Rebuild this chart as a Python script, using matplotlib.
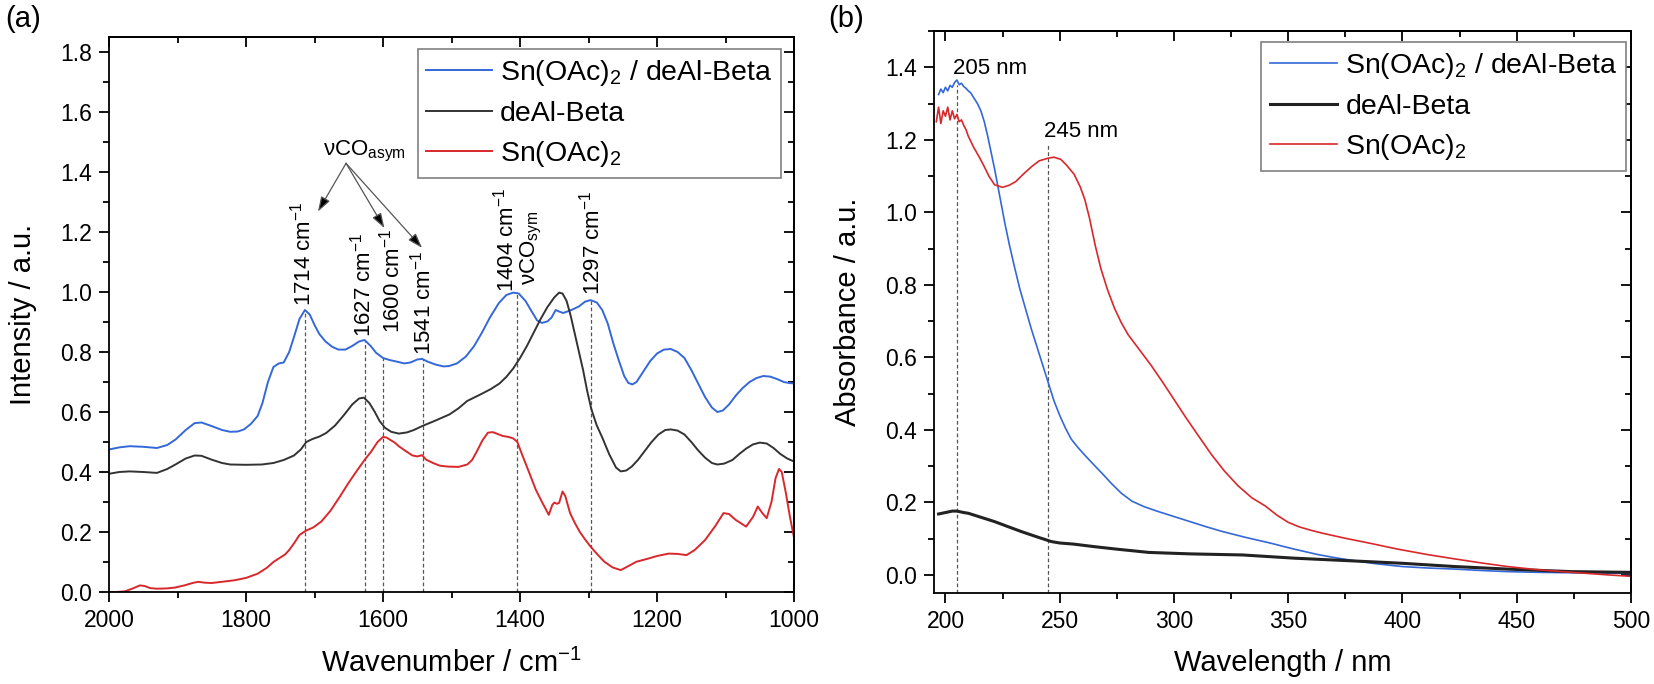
import matplotlib
matplotlib.use("Agg")
import matplotlib.pyplot as plt
from matplotlib.ticker import MultipleLocator, FormatStrFormatter

plt.rcParams['font.family'] = ['Liberation Sans', 'DejaVu Sans']
plt.rcParams['mathtext.fontset'] = 'custom'
plt.rcParams['mathtext.rm'] = 'Liberation Sans'
plt.rcParams['mathtext.it'] = 'Liberation Sans:italic'
plt.rcParams['mathtext.bf'] = 'Liberation Sans:bold'

# ---------------- Panel (a): FTIR ----------------
blue_a_x = [2000, 1985, 1970, 1950, 1930, 1915, 1903, 1888, 1875, 1865, 1850, 1835, 1823, 1812,
            1803, 1793, 1783, 1776, 1768, 1760, 1752, 1745, 1737, 1730, 1722, 1714, 1707, 1700,
            1693, 1684, 1674, 1665, 1655, 1645, 1635, 1627, 1618, 1610, 1600, 1590, 1580, 1569,
            1560, 1550, 1543, 1535, 1523, 1512, 1504, 1492, 1479, 1467, 1456, 1444, 1431, 1420,
            1410, 1402, 1392, 1383, 1375, 1368, 1360, 1354, 1348, 1343, 1337, 1325, 1314, 1305,
            1297, 1288, 1280, 1272, 1264, 1256, 1248, 1242, 1236, 1230, 1220, 1210, 1200, 1190,
            1180, 1170, 1160, 1150, 1140, 1130, 1120, 1112, 1104, 1095, 1085, 1075, 1065, 1055,
            1045, 1035, 1025, 1015, 1008, 1000]
blue_a_y = [0.475, 0.482, 0.486, 0.484, 0.480, 0.490, 0.508, 0.540, 0.563, 0.565, 0.553, 0.540,
            0.534, 0.535, 0.542, 0.560, 0.587, 0.630, 0.700, 0.750, 0.762, 0.765, 0.800, 0.850,
            0.910, 0.940, 0.925, 0.890, 0.860, 0.835, 0.817, 0.808, 0.808, 0.820, 0.835, 0.840,
            0.820, 0.797, 0.780, 0.773, 0.768, 0.762, 0.765, 0.775, 0.777, 0.768, 0.758, 0.752,
            0.753, 0.762, 0.785, 0.820, 0.863, 0.915, 0.963, 0.990, 0.998, 0.995, 0.970, 0.935,
            0.905, 0.897, 0.902, 0.915, 0.940, 0.935, 0.930, 0.940, 0.952, 0.968, 0.973, 0.965,
            0.940, 0.895, 0.830, 0.773, 0.720, 0.697, 0.692, 0.700, 0.735, 0.770, 0.795, 0.808,
            0.810, 0.800, 0.780, 0.740, 0.695, 0.650, 0.615, 0.600, 0.605, 0.625, 0.655, 0.680,
            0.700, 0.713, 0.720, 0.718, 0.710, 0.700, 0.697, 0.695]

black_a_x = [2000, 1985, 1970, 1950, 1930, 1915, 1903, 1888, 1875, 1865, 1850, 1835, 1823, 1800,
             1777, 1760, 1745, 1730, 1720, 1712, 1703, 1693, 1683, 1670, 1657, 1645, 1635, 1628,
             1620, 1612, 1605, 1597, 1588, 1577, 1565, 1555, 1543, 1525, 1503, 1490, 1477, 1460,
             1443, 1430, 1420, 1410, 1400, 1390, 1380, 1370, 1360, 1350, 1343, 1338, 1332, 1326,
             1320, 1314, 1308, 1302, 1296, 1288, 1280, 1270, 1260, 1253, 1245, 1237, 1228, 1218,
             1208, 1198, 1188, 1180, 1170, 1160, 1150, 1140, 1130, 1120, 1112, 1102, 1090, 1080,
             1070, 1060, 1050, 1040, 1030, 1020, 1010, 1000]
black_a_y = [0.394, 0.400, 0.402, 0.400, 0.397, 0.410, 0.425, 0.445, 0.455, 0.454, 0.441, 0.430,
             0.425, 0.424, 0.425, 0.430, 0.440, 0.455, 0.475, 0.500, 0.510, 0.518, 0.530, 0.555,
             0.590, 0.625, 0.645, 0.648, 0.630, 0.600, 0.570, 0.547, 0.534, 0.528, 0.532, 0.540,
             0.553, 0.570, 0.592, 0.612, 0.637, 0.656, 0.676, 0.695, 0.717, 0.745, 0.780, 0.820,
             0.865, 0.910, 0.950, 0.982, 0.998, 0.995, 0.970, 0.920, 0.860, 0.800, 0.740, 0.670,
             0.610, 0.555, 0.515, 0.460, 0.415, 0.402, 0.405, 0.418, 0.440, 0.470, 0.500, 0.525,
             0.540, 0.542, 0.538, 0.525, 0.500, 0.472, 0.448, 0.430, 0.425, 0.428, 0.440, 0.460,
             0.478, 0.492, 0.498, 0.495, 0.480, 0.460, 0.445, 0.435]

red_a_x = [2000, 1990, 1977, 1965, 1955, 1948, 1940, 1930, 1915, 1903, 1890, 1878, 1870, 1860,
           1850, 1835, 1817, 1800, 1783, 1770, 1760, 1752, 1743, 1737, 1730, 1722, 1713, 1702,
           1690, 1677, 1663, 1650, 1637, 1627, 1617, 1608, 1600, 1595, 1590, 1583, 1577, 1567,
           1557, 1550, 1543, 1537, 1527, 1517, 1505, 1490, 1477, 1470, 1463, 1455, 1447, 1440,
           1433, 1425, 1417, 1410, 1404, 1397, 1387, 1377, 1368, 1358, 1353, 1350, 1346, 1343,
           1338, 1334, 1327, 1320, 1313, 1305, 1297, 1287, 1277, 1265, 1253, 1243, 1230, 1215,
           1200, 1183, 1170, 1157, 1145, 1130, 1115, 1103, 1095, 1085, 1070, 1060, 1053, 1047,
           1040, 1033, 1027, 1022, 1018, 1012, 1006, 1000]
red_a_y = [0.000, 0.000, 0.002, 0.012, 0.022, 0.020, 0.013, 0.011, 0.012, 0.015, 0.022, 0.030,
           0.034, 0.031, 0.030, 0.034, 0.039, 0.047, 0.061, 0.080, 0.100, 0.112, 0.125, 0.140,
           0.162, 0.190, 0.204, 0.215, 0.235, 0.270, 0.318, 0.365, 0.408, 0.440, 0.469, 0.500,
           0.517, 0.515, 0.508, 0.498, 0.486, 0.470, 0.455, 0.452, 0.456, 0.441, 0.430, 0.421,
           0.418, 0.417, 0.425, 0.440, 0.469, 0.505, 0.531, 0.533, 0.527, 0.520, 0.517, 0.512,
           0.500, 0.458, 0.400, 0.341, 0.300, 0.257, 0.290, 0.298, 0.294, 0.297, 0.335, 0.320,
           0.263, 0.230, 0.201, 0.175, 0.151, 0.125, 0.101, 0.082, 0.073, 0.085, 0.101, 0.110,
           0.120, 0.128, 0.127, 0.123, 0.140, 0.173, 0.220, 0.263, 0.260, 0.240, 0.218, 0.250,
           0.285, 0.265, 0.246, 0.300, 0.380, 0.410, 0.400, 0.330, 0.250, 0.180]

peak_a_x = [1714, 1627, 1600, 1541, 1404, 1297]
peak_a_top = [0.94, 0.84, 0.78, 0.777, 0.997, 0.973]
peak_a_labels = ['1714 cm$^{\\mathregular{-1}}$', '1627 cm$^{\\mathregular{-1}}$',
                 '1600 cm$^{\\mathregular{-1}}$', '1541 cm$^{\\mathregular{-1}}$',
                 '1404 cm$^{\\mathregular{-1}}$', '1297 cm$^{\\mathregular{-1}}$']
peak_a_text_x = [1717, 1630, 1588, 1543, 1421, 1295]
peak_a_text_y = [0.955, 0.85, 0.862, 0.79, 1.0, 0.99]

asym_apex = (1654, 1.429)
asym_tips = [(1695, 1.268), (1598, 1.213), (1543, 1.147)]

# ---------------- Panel (b): UV-Vis ----------------
blue_b_x = [197, 198, 199, 200, 201, 202, 203, 204, 205, 206, 207, 208, 209, 210, 211, 212, 213,
            214, 215.5, 217, 218.5, 220, 221.5, 223, 224.5, 226, 228, 230, 232.5, 235, 237.5, 240,
            242.5, 245, 247.5, 250, 252.5, 255, 257.5, 260, 262.5, 265.5, 269, 272.5, 277, 281.7,
            287, 293, 300, 307, 314, 321, 331, 342, 352, 363, 370, 377, 388, 400, 411, 423, 435,
            446, 460, 474, 487, 500]
blue_b_y = [1.325, 1.340, 1.330, 1.345, 1.335, 1.350, 1.345, 1.358, 1.365, 1.352, 1.356, 1.347,
            1.342, 1.335, 1.330, 1.320, 1.310, 1.300, 1.280, 1.250, 1.210, 1.165, 1.120, 1.070,
            1.020, 0.970, 0.910, 0.855, 0.790, 0.735, 0.680, 0.630, 0.580, 0.530, 0.480, 0.440,
            0.405, 0.375, 0.355, 0.337, 0.320, 0.300, 0.277, 0.253, 0.225, 0.203, 0.188, 0.175,
            0.161, 0.147, 0.133, 0.120, 0.104, 0.088, 0.072, 0.056, 0.048, 0.041, 0.031, 0.023,
            0.019, 0.016, 0.012, 0.009, 0.007, 0.006, 0.005, 0.004]

red_b_x = [196, 197, 198, 199, 200, 201, 202, 203, 204, 205, 206, 207, 208, 209, 210, 212.3, 215,
           217, 219, 221.5, 225, 228, 230.8, 234, 237.7, 241, 244.7, 247.5, 250.5, 253, 256.3,
           259, 261, 263, 265.5, 268, 271, 274, 277, 280, 285, 290, 295, 300, 305, 310, 316.4,
           322, 328, 334, 340, 345, 350, 355, 360, 365, 375, 386, 398, 411, 423, 434.5, 446, 458,
           470, 481, 490, 500]
red_b_y = [1.250, 1.290, 1.245, 1.280, 1.265, 1.290, 1.255, 1.280, 1.258, 1.270, 1.250, 1.255,
           1.240, 1.228, 1.210, 1.180, 1.150, 1.126, 1.100, 1.076, 1.069, 1.075, 1.085, 1.105,
           1.126, 1.142, 1.149, 1.152, 1.146, 1.130, 1.105, 1.070, 1.035, 0.985, 0.910, 0.845,
           0.785, 0.735, 0.695, 0.662, 0.620, 0.578, 0.532, 0.484, 0.436, 0.390, 0.332, 0.287,
           0.246, 0.213, 0.190, 0.165, 0.145, 0.132, 0.123, 0.115, 0.101, 0.087, 0.071, 0.056,
           0.044, 0.033, 0.023, 0.015, 0.009, 0.004, 0.000, -0.004]

black_b_x = [197, 200, 203, 205, 208, 210, 215, 221.5, 227, 233, 240, 246.3, 250, 256, 265,
             275, 289, 307, 330, 353, 377, 400, 423, 446, 474, 500]
black_b_y = [0.168, 0.172, 0.176, 0.176, 0.172, 0.170, 0.160, 0.147, 0.134, 0.120, 0.105, 0.092,
             0.088, 0.085, 0.078, 0.071, 0.062, 0.058, 0.055, 0.046, 0.039, 0.032, 0.023, 0.016,
             0.009, 0.007]

peak_b_x = [205, 245]
peak_b_top = [1.35, 1.19]
peak_b_labels = ['205 nm', '245 nm']
peak_b_text_x = [219.5, 259.5]
peak_b_text_y = [1.398, 1.222]

legend_labels = ['Sn(OAc)$_{\\mathregular{2}}$ / deAl-Beta', 'deAl-Beta', 'Sn(OAc)$_{\\mathregular{2}}$']

BLUE = '#3468D8'
BLACK = '#333333'
RED = '#D8282C'
DASH = '#555555'

TICK_FS = 16.5
LABEL_FS = 21
LEG_FS = 20.5
ANN_FS = 16

fig = plt.figure(figsize=(16.54, 6.84), dpi=100)
ax1 = fig.add_axes([0.0659, 0.1345, 0.4142, 0.8114])
ax2 = fig.add_axes([0.5647, 0.1330, 0.4214, 0.8216])


def style_axes(ax, xmaj, xmin, ymaj, ymin):
    for s in ax.spines.values():
        s.set_linewidth(1.3)
    ax.xaxis.set_major_locator(MultipleLocator(xmaj))
    ax.xaxis.set_minor_locator(MultipleLocator(xmin))
    ax.yaxis.set_major_locator(MultipleLocator(ymaj))
    ax.yaxis.set_minor_locator(MultipleLocator(ymin))
    ax.yaxis.set_major_formatter(FormatStrFormatter('%.1f'))
    ax.tick_params(which='major', direction='out', length=7, width=1.3, labelsize=TICK_FS, pad=5)
    ax.tick_params(which='minor', direction='out', length=4, width=1.3)
    sx = ax.secondary_xaxis('top')
    sx.xaxis.set_major_locator(MultipleLocator(xmaj))
    sx.xaxis.set_minor_locator(MultipleLocator(xmin))
    sx.tick_params(which='major', direction='in', length=7, width=1.3, labeltop=False)
    sx.tick_params(which='minor', direction='in', length=4, width=1.3)
    sx.spines['top'].set_linewidth(1.3)
    sy = ax.secondary_yaxis('right')
    sy.yaxis.set_major_locator(MultipleLocator(ymaj))
    sy.yaxis.set_minor_locator(MultipleLocator(ymin))
    sy.tick_params(which='major', direction='in', length=7, width=1.3, labelright=False)
    sy.tick_params(which='minor', direction='in', length=4, width=1.3)
    sy.spines['right'].set_linewidth(1.3)


# ---- Panel (a)
ax1.plot(blue_a_x, blue_a_y, color=BLUE, lw=1.4, label=legend_labels[0])
ax1.plot(black_a_x, black_a_y, color=BLACK, lw=1.4, label=legend_labels[1])
ax1.plot(red_a_x, red_a_y, color=RED, lw=1.4, label=legend_labels[2])
ax1.set_xlim(2000, 1000)
ax1.set_ylim(0, 1.85)
style_axes(ax1, 200, 100, 0.2, 0.1)
ax1.vlines(peak_a_x, 0, peak_a_top, colors=DASH, linestyles=(0, (3, 2)), lw=0.9, zorder=1)
for tx, ty, lab in zip(peak_a_text_x, peak_a_text_y, peak_a_labels):
    ax1.text(tx, ty, lab, rotation=90, ha='center', va='bottom', fontsize=ANN_FS)
ax1.text(1384, 1.023, '\u03bdCO$_{\\mathregular{sym}}$', rotation=90, ha='center', va='bottom',
         fontsize=ANN_FS)
ax1.text(1627, 1.457, '\u03bdCO$_{\\mathregular{asym}}$', ha='center', va='baseline', fontsize=ANN_FS)
for tip in asym_tips:
    ax1.annotate('', xy=tip, xytext=asym_apex,
                 arrowprops=dict(arrowstyle='-|>,head_length=0.9,head_width=0.3', color='#666666',
                                 lw=0.9, shrinkA=0, shrinkB=0, fc='black', ec='#555555'))
ax1.set_xlabel('Wavenumber / cm$^{\\mathregular{-1}}$', fontsize=LABEL_FS, labelpad=12)
ax1.set_ylabel('Intensity / a.u.', fontsize=LABEL_FS, labelpad=17)
leg1 = ax1.legend(loc='upper right', bbox_to_anchor=(0.981, 0.978), fontsize=LEG_FS,
                  frameon=True, fancybox=False, edgecolor='#808080', framealpha=1,
                  handlelength=2.3, handletextpad=0.3, borderpad=0.3, labelspacing=0.45,
                  borderaxespad=0)
leg1.get_frame().set_linewidth(1.2)

# ---- Panel (b)
ax2.plot(blue_b_x, blue_b_y, color=BLUE, lw=1.2, label=legend_labels[0])
ax2.plot(black_b_x, black_b_y, color='#222222', lw=2.2, label=legend_labels[1])
ax2.plot(red_b_x, red_b_y, color=RED, lw=1.2, label=legend_labels[2])
ax2.set_xlim(195, 500)
ax2.set_ylim(-0.05, 1.5)
style_axes(ax2, 50, 25, 0.2, 0.1)
ax2.vlines(peak_b_x, -0.05, peak_b_top, colors=DASH, linestyles=(0, (3, 2)), lw=0.9, zorder=1)
for tx, ty, lab in zip(peak_b_text_x, peak_b_text_y, peak_b_labels):
    ax2.text(tx, ty, lab, ha='center', va='center', fontsize=ANN_FS)
ax2.set_xlabel('Wavelength / nm', fontsize=LABEL_FS, labelpad=12)
ax2.set_ylabel('Absorbance / a.u.', fontsize=LABEL_FS, labelpad=17)
leg2 = ax2.legend(loc='upper right', bbox_to_anchor=(0.993, 0.980), fontsize=LEG_FS,
                  frameon=True, fancybox=False, edgecolor='#808080', framealpha=1,
                  handlelength=2.35, handletextpad=0.3, borderpad=0.3, labelspacing=0.45,
                  borderaxespad=0)
leg2.get_frame().set_linewidth(1.2)

fig.text(0.003, 0.992, '(a)', fontsize=LABEL_FS, ha='left', va='top')
fig.text(0.5006, 0.992, '(b)', fontsize=LABEL_FS, ha='left', va='top')

fig.savefig('out.png', dpi=100)
